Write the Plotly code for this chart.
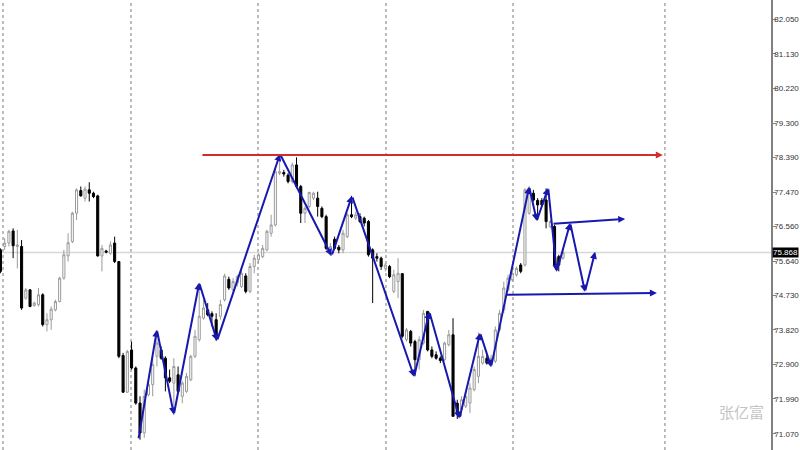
import plotly.graph_objects as go

# ---- candle data (bar index, OHLC) ----
opens = [75.94,76.03,76.12,76.44,76.03,76.03,74.66,74.88,74.46,74.49,74.75,73.96,74.09,74.35,74.57,75.19,75.78,76.16,76.91,77.51,
         77.31,77.53,77.44,77.37,75.78,75.91,75.85,76.12,75.63,73.14,72.17,73.29,72.81,71.88,71.09,72.10,72.37,73.12,73.29,73.07,
         72.55,72.41,72.63,72.06,72.19,72.50,73.12,73.56,74.13,74.35,74.25,74.09,74.18,74.62,75.16,74.88,75.06,74.97,75.25,74.84,
         75.50,75.68,75.76,75.94,76.38,76.60,77.97,77.99,77.92,77.75,78.19,77.62,76.91,77.09,77.31,77.31,77.04,76.82,75.94,76.22,
         76.01,75.94,76.29,76.87,76.78,76.82,76.78,76.69,75.94,75.76,75.72,75.45,75.50,74.84,75.10,75.31,73.56,73.78,73.51,73.03,
         73.47,74.31,73.29,73.16,73.07,73.03,73.43,73.69,71.88,71.71,71.80,71.88,72.24,72.59,72.94,73.07,72.94,72.99,73.82,74.35,
         74.88,75.15,75.28,75.54,75.54,76.91,77.44,77.25,77.25,77.26,76.56,76.56,75.76,75.72]
highs = [75.98,76.25,76.47,76.51,76.47,76.20,74.93,74.90,74.57,74.93,74.79,74.26,74.44,74.62,75.23,75.94,76.38,76.95,77.57,77.62,
         77.62,77.73,77.48,77.40,76.07,75.94,76.16,76.29,75.63,73.21,73.29,73.51,72.85,72.06,72.24,72.50,73.12,73.82,73.38,73.12,
         72.77,73.07,72.85,72.46,72.68,73.16,73.82,75.06,74.62,74.53,74.31,74.26,74.62,75.31,75.23,75.19,75.28,75.45,75.32,75.59,
         75.81,75.85,76.07,76.47,76.87,78.10,78.48,78.06,77.97,78.25,78.39,77.66,77.09,77.48,77.48,77.48,77.09,76.87,76.12,76.29,
         76.07,76.47,76.91,77.37,76.95,76.91,76.82,76.73,75.98,75.85,75.76,75.59,75.54,75.41,75.72,75.32,73.87,73.82,73.56,73.65,
         74.35,74.31,73.38,73.25,73.12,73.51,73.82,74.13,71.97,72.06,72.19,72.41,72.85,73.75,73.29,73.16,73.16,73.91,74.35,75.10,
         75.28,75.41,75.50,75.59,77.57,77.63,77.53,77.31,77.31,77.57,76.73,76.60,75.81,75.94]
lows = [75.32,75.94,76.03,75.72,75.45,74.35,74.62,74.42,74.44,74.44,73.91,73.78,73.82,74.31,74.55,75.15,75.63,76.12,76.73,77.35,
        77.22,77.22,77.31,75.76,75.37,75.85,75.81,75.59,73.07,72.15,72.15,72.77,71.84,70.91,70.96,72.06,72.06,72.85,73.03,72.19,
        72.41,71.56,72.15,71.88,72.15,72.46,73.07,73.51,74.09,74.18,73.91,73.53,74.09,74.57,74.88,74.84,74.97,74.93,74.79,74.79,
        75.32,75.59,75.72,75.90,76.29,76.56,77.92,77.88,77.70,77.70,77.57,76.65,76.65,77.04,77.26,76.82,76.78,75.94,75.78,75.94,
        75.85,75.85,76.25,76.78,76.73,76.65,76.56,75.76,74.53,75.63,75.41,75.37,75.19,74.79,74.66,73.60,73.51,73.38,72.59,72.77,
        73.43,73.25,73.07,73.03,72.94,72.99,73.38,71.53,71.46,71.53,71.75,71.62,72.19,72.41,72.90,72.90,72.84,72.94,73.78,74.26,
        74.84,75.10,75.23,75.32,75.50,76.87,77.22,76.72,77.09,76.51,76.51,75.50,75.37,75.68]
closes = [75.37,76.12,76.43,76.05,76.07,74.40,74.88,74.44,74.53,74.75,73.96,74.09,74.37,74.57,75.19,75.81,76.13,76.91,77.53,77.37,
          77.55,77.44,77.35,75.78,75.98,75.88,76.07,75.63,73.12,72.17,73.25,72.81,71.88,71.09,72.06,72.37,72.90,73.47,73.07,72.55,
          72.46,72.85,72.19,72.41,72.59,73.12,73.65,74.18,74.40,74.22,74.18,73.65,74.49,75.25,74.93,75.10,75.23,75.32,74.84,75.50,
          75.72,75.81,75.98,76.43,76.60,78.01,78.01,77.95,77.75,78.19,77.62,76.91,77.04,77.46,77.44,77.09,76.82,75.98,76.03,75.98,
          75.94,76.38,76.87,76.82,76.87,76.69,76.65,75.81,75.72,75.72,75.50,75.54,75.23,75.28,75.32,73.65,73.82,73.47,73.03,73.56,
          74.26,73.29,73.12,73.07,73.01,73.47,73.69,71.53,71.62,71.97,72.06,72.28,72.77,73.12,73.12,72.94,73.07,73.82,74.26,74.93,
          75.19,75.32,75.45,75.37,77.53,77.57,77.26,77.13,77.13,76.69,76.69,75.54,75.54,75.87]
bars = list(range(len(opens)))

# ---- zigzag (bar index, price) ----
zz_x = [32.6, 37.0, 41.0, 47.0, 51.2, 66.1, 78.3, 83.1, 97.8, 101.4, 108.5, 113.4, 116.0, 125.0, 126.8, 129.5, 131.5, 134.7, 138.2, 140.6]
zz_y = [70.91, 73.82, 71.58, 75.07, 73.53, 78.48, 75.78, 77.37, 72.58, 74.30, 71.47, 73.74, 72.84, 77.61, 76.71, 77.58, 75.36, 76.65, 74.83, 75.89]

# ---- trend lines: (x0, y0, x1, y1) ----
red_line = (47.4, 78.453, 156.6, 78.453)
blue_lines = [(130.4, 76.63, 147.7, 76.76), (119.3, 74.75, 155.2, 74.80)]

# ---- axis ----
tick_vals = [82.050, 81.130, 80.220, 79.300, 78.390, 77.470, 76.560, 75.640, 74.730, 73.820, 72.900, 71.990, 71.070]
tick_text = ["%.3f" % v for v in tick_vals]
current_price = 75.868
grid_x = [0.61, 30.87, 60.89, 91.15, 121.18, 157.1]
y_range = [70.638, 82.559]
x_range = [-0.1, 182.17]

BLUE = "#1818b0"
RED = "#d22c2c"

fig = go.Figure()
fig.add_trace(go.Candlestick(
    x=bars, open=opens, high=highs, low=lows, close=closes,
    increasing=dict(line=dict(color="#9a9a9a", width=1), fillcolor="white"),
    decreasing=dict(line=dict(color="black", width=1), fillcolor="black"),
    whiskerwidth=0, showlegend=False, hoverinfo="skip"))

shapes = []
for gx in grid_x:
    shapes.append(dict(type="line", xref="x", yref="paper", x0=gx, x1=gx, y0=0, y1=1,
                       line=dict(color="#7a7a7a", width=1, dash="dot"), layer="below"))
shapes.append(dict(type="line", xref="paper", yref="y", x0=0, x1=1, y0=current_price, y1=current_price,
                   line=dict(color="#d8d8d8", width=1.5), layer="below"))

ann = []
for i in range(len(zz_x) - 1):
    ann.append(dict(x=zz_x[i + 1], y=zz_y[i + 1], ax=zz_x[i], ay=zz_y[i], xref="x", yref="y",
                    axref="x", ayref="y", text="", showarrow=True, arrowhead=2, arrowsize=0.7,
                    arrowwidth=2, arrowcolor=BLUE))
for (x0, y0, x1, y1) in blue_lines:
    ann.append(dict(x=x1, y=y1, ax=x0, ay=y0, xref="x", yref="y", axref="x", ayref="y",
                    text="", showarrow=True, arrowhead=2, arrowsize=0.7, arrowwidth=2, arrowcolor=BLUE))
x0, y0, x1, y1 = red_line
ann.append(dict(x=x1, y=y1, ax=x0, ay=y0, xref="x", yref="y", axref="x", ayref="y",
                text="", showarrow=True, arrowhead=2, arrowsize=0.7, arrowwidth=2, arrowcolor=RED))
ann.append(dict(x=1, y=current_price, xref="paper", yref="y", xanchor="left", yanchor="middle",
                xshift=1, text="%.3f" % current_price, showarrow=False, bgcolor="black", borderpad=0,
                font=dict(family="Liberation Sans", size=8, color="white")))
ann.append(dict(x=741 / 771, y=1 - 411 / 450, xref="paper", yref="paper", text="张亿富", showarrow=False,
                xanchor="center", yanchor="middle",
                font=dict(family="Noto Sans CJK SC", size=15, color="#c4c4c4")))

fig.update_layout(
    width=800, height=450, margin=dict(l=0, r=29, t=0, b=0, autoexpand=False),
    paper_bgcolor="white", plot_bgcolor="white",
    shapes=shapes, annotations=ann,
    xaxis=dict(range=x_range, showgrid=False, zeroline=False, showticklabels=False,
               rangeslider=dict(visible=False), fixedrange=True),
    yaxis=dict(range=y_range, side="right", showgrid=False, zeroline=False,
               tickvals=tick_vals, ticktext=tick_text, ticks="outside", ticklen=3,
               tickcolor="#808080", showline=True, linecolor="#808080", linewidth=1.5,
               ticklabelstandoff=-3,
               tickfont=dict(family="Liberation Sans", size=8, color="#333333")),
)
fig.write_html("out.html", config={"displayModeBar": False},
               post_script="document.body.style.margin='0';document.body.style.overflow='hidden';")
